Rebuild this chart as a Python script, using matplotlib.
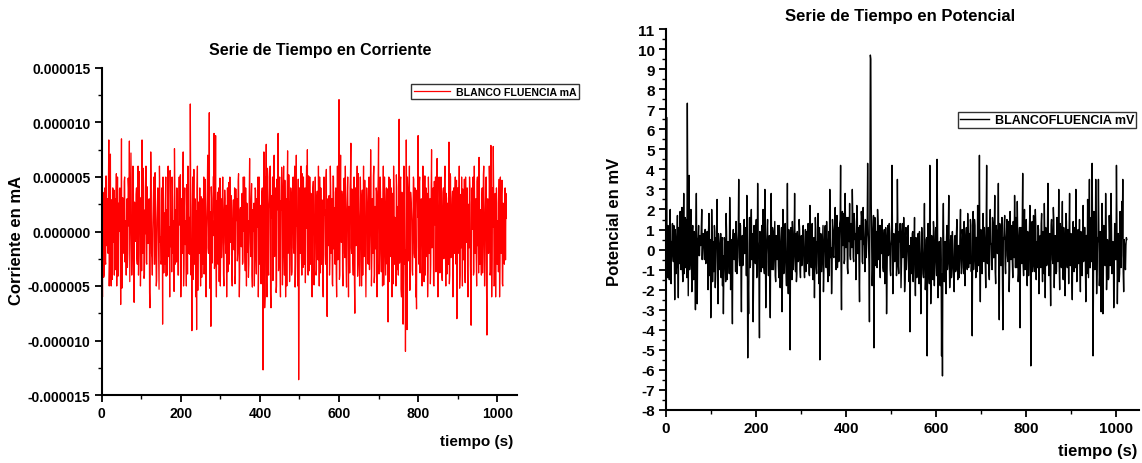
import numpy as np
import matplotlib
matplotlib.use('Agg')
import matplotlib.pyplot as plt
from matplotlib.ticker import MultipleLocator, FormatStrFormatter

plt.rcParams['font.family'] = ['Liberation Sans', 'DejaVu Sans']
plt.rcParams['font.weight'] = 'bold'

# tiempo (s): readings at even and odd seconds
t_par = np.arange(0, 1024, 2)
t_impar = np.arange(1, 1024, 2)

# corriente, in units of 1e-6 mA, even seconds
corriente_par = [
    2, -6, 2, -4, 4, -3, 1, 3, -2, 8.4, -3, 7.1, -5, 2, 4, -1,
    -4, 3, 1, -5, 5, -2, 0, 4, -6.7, 8.5, -3, 2, -2, 5, 1, -4,
    3, -2, 4, 8.3, -1, 7.2, -4, -1, 5, -6.5, 2, 0, 4, -3, 6, -2,
    1, -5, 3, 8.4, -2, 4, -4, 2, 6, -3, 0, -1, 3, -7, 7.3, -2,
    -4, 2, 5, -3, 3, -5, 1, 4, -2, 6, -1, -3, 4, -8.5, 3, 0,
    -3, 5, 2, -4, 6, -1, -6, 3, 0, 5, -2, -5, 7.6, -3, 2, 4,
    -1, -4, 5, 1, -6, 3, -2, 7.3, -3, 4, 1, -5, 2, 6, -2, 0,
    11.7, -4, -9.1, 5, 1, -3, 3, -6, -9, 6, 2, -2, 4, -5, 1, 3,
    -3, 5, -1, 4, -6, 2, 7, -2, 10.9, -4, -8.7, 3, 1, 5, 9.0, -3,
    8.8, -6, 2, -3, 4, 0, -5, 3, -1, 5, -4, 2, 3, -2, -6, 4,
    1, -3, 5, -1, 3, -5, 2, 0, 4, -4, 1, 3, -2, 5.3, -6, 2,
    -1, 3, -3, 5, 0, -2, 4, -5, 2, 1, -3, 6.7, -1, 3, -4, 2,
    0, -5, 4, -2, 3, 1, -6, 5, -3, 2, -1, 4, -12.7, 7.3, -7, 5,
    8.0, -6, 5, -4, 3, 6, -7, 2, 5, -3, 7, -2, 4, -5, 3, 9.0,
    -3, 5, -6, 2, 4, -2, 6, -4, 1, 3, -5, 7.4, -1, 2, -3, 4,
    -4, 2, 5, -2, 6, -3, 7.0, 1, -5, -13.6, 4, -2, 6, -4, 2, 5,
    -3, 4, -1, 6, 7.5, -4, 2, 5, -3, 1, -6, 4, 0, -2, 5, -4,
    3, -1, 6, -5, 2, 4, -3, 1, -6, 5, 2, -3, 5.7, -7.8, 3, 0,
    -4, 6, -2, 3, -5, 5, 1, -3, 4, -6, 6, -2, 12.1, -4, 7.0, -1,
    3, -5, 4, -2, 6, -3, 2, 5, -6, 1, 4, 8.1, -2, 3, -4, 5,
    -7.5, 4, -1, 6, -3, 2, -5, 5, 0, 3, -4, 6, -2, 1, -6, 4,
    2, -3, 5, -1, 7.5, -5, 3, -2, 6, -4, 1, 4, -6, 3, 8.6, -3,
    5, -2, 3, -5, 6, -1, 2, -4, 4, -3, -8.3, 5, 0, -2, 4, -6,
    3, 6, -3, 1, -5, 4, 2, -4, 10.3, -2, 5, -6, 3, -8.5, 6, -3,
    -11.0, 8.4, -9, 4, -2, 6, -5, 3, 1, -4, 5, -2, 4, -6, -7.1, 3,
    8.8, -3, 5, -1, 3, -5, 6, -2, 2, -4, 4, 0, -6, 5, -2, 3,
    -3, 7.5, -1, 4, -5, 2, 5, -3, 6.7, -6, 1, 3, -2, 5, -4, 2,
    4, -2, 6, -5, 3, 1, -3, 8.2, -4, 5, -1, 3, -6, 4, -2, 5,
    -3, -8.0, 4, -2, 6, -4, 2, 5, -5, 3, 0, -3, 5, -1, 4, -6,
    2, 5, -3, -8.6, 4, 1, -4, 6, -2, 3, -5, 5, 0, 6.8, -3, 2,
    -4, 4, -1, 6, -5, 2, 5, -9.5, 3, -2, 6, -4, 7.9, -6, 4, 7.8,
    -5, 2, -6.0, 4, -3, 1, 3, -6, 5, -2, 4.7, -5, 2, -3, 4, 3.5,
]

# corriente, odd seconds
corriente_impar = [
    -0.8, 3.6, -4.2, 1.5, -2.7, 5.1, -1.3, 2.4, 4.4, -5.0, 0.7, -3.1, 2.9, -4.4, 0.3, 3.8,
    1.2, -3.5, 5.3, -1.9, -4.1, 2.6, 3.9, -0.6, 1.8, -5.2, 3.1, -0.4, 4.6, -2.8, -1.5, 2.2,
    -3.3, 4.9, 0.5, -4.6, 2.1, 1.3, -2.2, 6.0, -5.1, 2.7, -0.9, 3.4, -2.5, 1.6, -4.0, 5.5,
    3.1, -1.7, -3.6, 2.3, 5.8, -4.3, 0.9, -0.2, -2.9, 4.1, -1.1, 2.8, -5.6, 1.4, 4.7, -2.4,
    0.2, 3.7, -3.0, 5.4, -1.6, -4.5, 2.5, 1.1, -5.3, 3.3, -0.5, -2.6, 2.0, 5.0, -3.8, 1.7,
    2.8, -4.1, 1.2, 4.2, -2.3, 0.4, 5.6, -1.4, -3.7, 2.9, 1.0, -5.5, 3.6, -0.3, -2.8, 2.3,
    -4.0, 2.4, 0.6, 5.2, -2.7, 1.5, 3.9, -5.0, 2.2, -1.2, 0.1, 4.3, -3.9, 2.6, 1.3, -2.1,
    3.5, -1.8, 2.0, -4.4, 5.7, -0.7, -2.6, 1.9, 4.0, -5.4, 2.7, 0.5, -1.6, 3.2, -4.2, 2.5,
    1.4, -3.9, 4.8, -2.2, 0.3, 3.7, -1.5, 2.1, -5.2, 1.8, 4.1, -2.9, -0.4, 5.1, -3.4, 1.0,
    -2.5, 2.8, 3.6, -1.3, -4.6, 4.9, 0.8, -2.4, 2.6, 1.5, -5.0, 3.8, -1.0, 2.4, -0.2, -3.7,
    4.5, -2.1, 1.6, 3.3, -4.0, 0.6, 2.9, -1.7, -4.8, 3.9, 1.2, -2.7, 4.6, -0.5, -3.5, 2.2,
    -1.4, 3.5, -2.8, 1.1, 5.0, -3.6, 0.2, 2.6, -1.9, -4.2, 3.4, 1.7, -2.3, 4.4, -5.1, 0.9,
    2.6, -1.2, 3.8, -3.9, 0.4, 5.0, -2.6, 1.3, 2.4, -4.8, 3.6, -0.6, -2.4, 5.6, -5.9, 3.2,
    -4.7, 5.8, -3.4, 2.1, 4.9, -5.7, 3.3, 1.2, -4.5, 6.1, -2.3, 3.5, -5.6, 4.8, 2.0, -3.6,
    4.6, -3.5, 2.8, 5.9, -4.9, 3.1, -1.4, 4.7, -6.0, 2.5, 3.8, -2.0, 5.2, -4.6, 1.1, 3.4,
    -3.7, 4.4, -1.5, 3.6, -5.1, 2.3, 0.5, -3.9, 4.8, -5.8, 2.6, 3.7, -2.4, 5.3, -3.3, 1.4,
    2.3, -4.7, 3.9, 0.3, -2.5, 5.1, -3.6, 1.6, 3.5, -2.2, 0.7, 4.6, -4.9, 2.4, 1.2, -3.5,
    3.7, -2.6, 1.4, 5.0, -3.8, -0.3, 2.9, -4.6, 3.2, 1.5, -2.1, 4.8, -3.5, 2.7, -1.3, 3.3,
    -2.4, 3.8, 0.5, -4.8, 5.1, -1.6, 2.2, 3.6, -3.9, 1.0, -2.6, 5.4, -4.4, 2.5, 0.2, 3.7,
    -3.6, 2.7, 4.9, -2.4, 1.2, -5.1, 3.4, -0.6, 2.3, -3.8, 5.2, -1.5, 3.9, -2.7, 1.3, -4.7,
    2.6, -1.3, 3.6, -4.1, 5.3, 0.4, -2.8, 2.5, -5.0, 3.8, 1.0, -2.3, 4.7, -3.5, -0.4, 2.7,
    -2.9, 4.8, -3.5, 1.5, 3.4, -2.5, 0.6, 5.1, -4.7, 2.3, -1.6, 3.7, -2.2, 4.9, -3.9, 1.2,
    3.6, -3.7, 2.4, 0.2, -4.9, 5.0, -1.3, 2.6, -2.5, 3.9, 1.1, -4.6, 4.8, -2.3, -0.2, 3.5,
    -4.8, 3.7, 1.3, -2.6, 5.2, -3.5, 2.3, 0.5, -2.9, 4.7, -5.3, 3.6, 1.6, -3.8, 4.9, -1.7,
    -3.6, 2.8, 5.0, -2.7, 1.1, -5.4, 3.6, 2.2, -3.5, 0.4, 4.8, -2.4, 2.5, -4.9, 3.8, 1.3,
    -1.4, 4.5, -3.8, 2.6, 0.3, -2.7, 3.9, -4.6, 5.1, 1.2, -2.3, 3.5, -3.6, 2.6, -0.5, -4.8,
    3.8, -1.5, 2.7, -4.9, 4.6, 0.6, -3.7, 2.4, 1.4, -2.6, 5.0, -3.8, 2.2, -0.3, -4.5, 3.6,
    -2.5, 4.9, -1.2, 3.5, -3.9, 2.6, 0.4, -4.8, 5.3, -2.4, 1.5, 3.7, -3.3, 0.5, 2.8, -1.6,
    4.7, -3.8, 1.3, 2.6, -5.2, 3.4, -1.5, 0.6, 3.9, -2.6, 4.8, -4.7, 2.3, 1.4, -3.6, 2.5,
    -1.5, 3.8, -4.9, 2.5, 0.2, 5.0, -3.7, 1.6, 2.7, -2.5, 4.6, -1.3, -3.8, 3.6, 0.6, -2.4,
    2.6, -3.8, 5.2, 0.5, -2.6, 3.8, -5.1, 1.2, 2.5, -1.6, 3.9, -3.7, 4.9, -2.5, 0.4, 3.6,
    -4.9, 3.5, -1.4, 2.6, 0.3, -3.7, 4.8, -2.5, 1.3, 3.4, -4.8, 2.6, -1.3, 3.5, -2.6, 1.2,
]

# potencial in mV, even seconds
potencial_par = [
    -1.0, 6.6, -1.4, 0.5, -1.5, 2.0, -1.7, 0.3, -0.2, 1.2, -2.5, 0.5, -0.8, 1.7, -2.4, 0.6,
    1.9, -1.0, 2.1, -1.6, 2.8, 0.4, -0.9, 1.5, 7.3, -2.3, 3.7, -0.5, 2.0, -2.1, 1.2, -1.5,
    0.8, -3.0, 2.8, -2.7, 0.6, -0.3, 0.7, 0.2, 2.0, 0.3, 0.6, -0.5, 1.0, -0.1, 0.9, -2.0,
    1.8, -1.3, -3.4, 2.0, -1.6, 0.4, 1.2, -1.9, 0.6, 2.5, -2.7, 0.3, -1.0, 0.8, -0.4, -1.8,
    -3.2, 0.6, -0.9, 1.8, -1.5, 0.4, -0.2, 2.6, -2.0, 0.5, -3.7, 1.0, -0.5, 0.2, 1.4, -1.2,
    0.5, 3.5, -0.8, 1.2, -3.1, 0.7, -0.4, 1.5, 0.2, 1.1, 2.7, -5.4, -3.2, 1.6, -0.8, 2.0,
    -0.3, -3.6, 1.2, -0.5, 1.0, -1.4, 3.3, 0.1, -4.4, 0.7, -1.1, 0.6, 2.0, -0.9, 3.0, -2.9,
    0.4, 1.5, -1.3, 0.7, -3.4, 2.8, -1.0, 0.9, -0.2, 1.4, -1.6, 0.5, 0.0, -0.8, 1.2, -1.9,
    0.3, -3.1, 2.0, -1.2, 0.6, -0.5, -1.8, 3.3, -2.2, 0.4, -5.0, 1.1, -1.5, 0.8, -0.4, 2.8,
    -1.1, -1.6, 0.9, -0.6, 1.5, -1.0, 0.3, -0.8, 0.7, -0.2, -1.4, 1.0, 0.2, -0.7, 1.3, -1.2,
    2.2, -0.6, 0.5, -1.3, 0.1, -2.4, 1.6, -0.9, 0.4, 1.8, -1.7, -5.5, 0.8, -1.1, 0.6, -2.1,
    0.3, 1.2, -0.9, 0.5, -1.6, 0.9, 3.0, -0.4, -2.2, 1.5, -0.3, 0.8, 2.1, -1.0, 1.7, 0.2,
    -0.6, 1.3, 4.2, -3.0, 1.9, 0.4, -0.7, 2.8, 0.1, 1.6, -1.2, 0.9, 2.3, -0.5, 1.0, 3.0,
    -0.4, 1.8, 0.5, -1.5, 2.2, -0.2, 1.1, -2.6, 0.8, 1.9, -0.6, 2.1, 0.3, -1.1, 1.4, 0.6,
    4.3, 0.2, -3.6, 9.7, 2.3, -1.8, 1.0, -4.9, 1.6, -0.8, 0.9, 2.0, -0.5, 1.2, -1.4, 0.7,
    1.5, -0.9, 0.4, -1.7, 1.1, -3.2, 0.6, -0.3, 1.3, -1.0, 0.2, 4.2, -2.2, 0.8, -0.6, 1.0,
    -1.3, 3.5, -0.8, 0.9, 1.3, -1.9, 0.5, -0.4, 1.6, -2.1, 0.7, -1.0, 0.3, 1.2, -1.6, -4.1,
    0.6, -1.2, 0.9, -0.5, 1.6, -2.3, 0.4, -1.0, 0.8, -1.7, 0.2, -3.2, 1.1, -0.6, -1.4, 2.3,
    -2.0, 0.5, -5.3, 1.3, -1.1, 4.2, -2.7, 0.7, -0.9, 1.4, -1.8, 0.3, -0.5, 4.5, -2.4, -0.2,
    -1.3, 0.6, -5.3, -6.3, 2.3, -1.6, 0.4, -2.2, 1.2, -0.7, 2.7, -1.9, 0.5, -1.4, 0.9, -0.8,
    -2.1, 0.7, -1.0, 1.5, -1.5, 0.2, -0.6, 2.0, -1.2, 1.0, -0.3, 1.4, -1.8, 0.6, -0.4, 1.8,
    -0.9, 0.8, 1.5, -1.1, -4.3, 1.9, -0.5, 1.2, -1.4, 0.6, 2.2, -0.8, 4.7, -2.6, 0.9, -1.2,
    1.8, -0.6, 0.4, -1.9, 4.2, -0.7, 1.1, -1.5, 2.0, 0.3, -1.0, 1.3, -0.4, 2.7, -1.7, 0.9,
    -0.2, 3.3, -3.5, 1.0, -0.8, 1.6, -4.0, 0.5, 1.7, -1.2, 0.8, -0.3, 1.4, -2.1, 1.9, -0.5,
    1.2, -1.4, 0.9, 2.7, -0.9, 1.3, 2.4, -1.6, 0.6, -3.9, 1.1, -0.7, 3.8, -1.3, 2.0, -0.6,
    1.5, -1.8, 0.7, -0.4, 2.2, -5.8, 0.9, -1.1, 1.7, -0.8, 2.0, -1.5, 0.4, 1.2, -2.2, 0.6,
    -0.9, 1.8, -1.6, 0.5, 2.3, -2.4, 1.0, -0.7, 3.3, -1.3, 0.8, -2.8, 1.5, -0.5, 2.1, -1.9,
    0.7, -1.2, 1.6, -0.6, 3.0, -2.0, 1.1, -0.9, 2.4, -1.5, 0.5, -2.3, 1.8, -0.4, 1.0, -1.7,
    2.8, -0.8, 0.6, -2.5, 1.4, -1.1, 0.9, 3.0, -1.6, 0.4, -0.7, 1.5, -2.1, 0.8, -1.3, 2.2,
    -0.5, 1.1, -2.6, 0.7, 2.5, -1.4, 3.5, -0.9, 1.6, 4.3, -5.3, 1.9, -1.0, 3.5, -2.2, 0.6,
    3.5, -1.8, 0.9, -3.1, 2.3, -3.2, 1.2, -0.6, 2.8, -2.0, 0.5, -1.5, 1.7, -0.8, 2.8, -1.2,
    0.4, -2.9, 1.3, -0.5, 4.2, -2.7, 0.8, -1.6, 1.9, -0.9, 2.4, 3.5, -2.1, 0.3, -1.0, 0.6,
]

# potencial, odd seconds
potencial_impar = [
    0.5, -0.8, 1.2, -0.3, 0.9, -1.1, 0.4, 1.3, -0.6, 0.2, 1.0, -1.2, 0.8, -0.4, 1.1, -0.7,
    0.6, 1.4, -0.9, 0.3, -1.2, 1.6, 0.2, -1.4, 2.4, 0.5, -1.0, 1.3, -0.6, 0.8, -1.3, 0.9,
    -0.4, 1.0, -0.9, 0.5, 1.2, -0.3, 0.4, 1.1, -0.5, 0.8, 0.1, 1.0, -0.7, 0.6, -0.2, 0.9,
    -0.8, 0.5, -1.5, 0.7, -0.4, -1.1, 0.9, -0.6, 0.3, -1.3, 0.8, -0.9, 0.2, -1.4, 0.6, -0.3,
    -1.0, 0.4, -1.6, 0.9, -0.5, 0.2, -1.2, 1.0, -0.7, -1.5, 0.5, -0.3, 0.8, -1.1, 0.3, -0.6,
    0.9, -0.4, 1.3, -1.2, 0.6, -0.8, 1.1, -0.2, 0.7, -1.3, 0.4, -1.6, 0.3, -0.9, 1.2, -0.5,
    0.8, -1.4, 0.2, -0.7, 1.5, -1.0, 0.4, -1.6, 0.9, -0.3, 1.2, -0.9, 0.6, -1.2, 0.7, -0.4,
    1.0, -0.6, 0.3, -1.5, 0.8, -0.2, 1.1, -1.0, 0.5, -1.3, 0.7, -0.5, 1.2, -1.4, 0.3, -0.8,
    1.1, -1.6, 0.6, -0.4, 1.3, -1.1, 0.2, -0.9, 1.0, -1.8, 0.4, -0.6, 1.4, -1.0, 0.5, -0.2,
    0.8, -1.2, 0.3, -0.5, 1.0, -1.4, 0.7, -0.3, 1.2, -0.9, 0.1, -1.1, 0.9, -0.4, 0.6, -1.3,
    0.4, -0.9, 1.3, -1.5, 0.6, -0.2, 1.0, -1.2, 0.3, -0.7, 1.1, -1.6, 0.5, -0.3, 1.2, -0.8,
    0.9, -0.5, 1.4, -1.0, 0.2, -1.3, 0.8, 0.1, -1.1, 1.0, -0.4, 1.3, -0.6, 0.7, -0.9, 1.1,
    0.3, 1.5, -0.8, 1.1, 0.2, 1.8, -0.5, 1.2, 0.6, -0.9, 1.6, 0.4, -0.3, 1.3, 0.1, 1.7,
    -0.6, 1.4, 0.8, -0.2, 1.9, 0.3, -1.1, 1.2, 0.5, 1.6, -0.7, 1.0, 0.2, 1.5, -0.4, 0.9,
    1.3, -0.8, 2.0, 9.5, 0.4, -1.0, 1.7, -0.6, 1.1, 0.3, -0.9, 1.4, 0.6, -0.5, 1.2, -0.2,
    0.7, -1.1, 1.0, -0.6, 0.3, -1.4, 1.2, -0.2, 0.8, -1.3, 0.5, 1.1, -0.9, 0.4, -0.5, 1.3,
    -0.7, 1.0, -1.2, 0.4, 0.9, -0.8, 1.3, -0.3, 0.6, -1.5, 1.1, -0.4, 0.8, -1.0, 0.2, -1.2,
    -0.3, 0.8, -1.6, 0.2, -0.9, 0.6, -1.4, 0.5, -1.1, 0.9, -0.6, -1.8, 0.4, -1.2, 0.7, -0.5,
    -1.4, 0.6, -1.0, 0.3, -1.7, 1.2, -0.8, -0.2, -1.5, 0.9, -0.6, 1.1, -1.3, 1.6, -0.9, 0.4,
    -1.8, -0.5, -1.2, 0.8, -0.7, 0.3, -1.6, 0.6, -1.0, 0.9, -0.4, -1.3, 0.7, -0.9, 0.2, -1.5,
    0.5, -1.1, 0.8, -0.6, 0.2, -1.4, 1.0, -0.3, -0.9, 0.7, -1.2, 0.4, -0.5, 1.1, -1.0, 0.6,
    0.3, -0.7, 1.2, -0.4, 0.9, -1.0, 1.5, -0.2, 0.6, -1.1, 1.3, 0.2, -0.8, 1.0, -0.5, 0.8,
    -0.3, 1.1, -0.9, 1.4, -0.6, 0.7, -1.2, 1.0, 0.3, -0.8, 1.6, -0.4, 0.9, -1.1, 1.2, 0.1,
    0.8, -0.9, 1.3, -0.5, 1.0, -1.3, 0.6, 1.2, -0.7, 0.4, 1.5, -0.6, 0.9, -1.0, 0.3, 1.1,
    -0.6, 1.4, -0.4, 0.8, 1.6, -0.9, 0.5, -1.2, 1.1, -0.3, 0.7, 1.3, -0.8, 0.6, -1.0, 1.2,
    -0.2, 0.9, -1.3, 1.1, 0.4, -0.7, 1.4, -0.5, 0.8, -1.1, 1.2, 0.3, -0.9, 1.0, -0.4, 0.7,
    1.3, -0.6, 0.9, -1.2, 0.5, 1.1, -0.8, 1.4, -0.3, 0.7, -1.0, 1.2, 0.4, -0.7, 1.5, -0.2,
    0.6, -1.1, 1.0, 0.2, -0.8, 1.3, -0.5, 0.9, -1.2, 1.1, 0.3, -0.6, 1.4, -0.9, 0.5, 1.0,
    -0.4, 0.8, -1.3, 0.5, -0.2, 1.1, -0.9, 0.6, -1.4, 1.0, 0.2, -0.8, 0.9, -1.1, 0.4, -0.6,
    1.1, -0.5, 0.7, -1.2, 0.3, 1.0, -0.9, 1.4, -0.6, 0.8, -1.5, 0.5, -0.3, 1.2, -1.0, 0.4,
    0.9, -1.3, 0.6, -0.4, 1.2, -1.1, 0.3, -0.8, 1.0, -0.6, 0.2, -1.4, 0.8, -0.5, 1.1, -0.9,
    0.3, -1.0, 0.7, -0.5, 1.3, -0.8, 0.4, -1.2, 0.9, -0.3, 0.6, -1.1, 0.5, -0.7, 0.2, 0.5,
]

# merge the even and odd readings into one time series
tiempo = np.empty(1024)
tiempo[0::2] = t_par
tiempo[1::2] = t_impar
corriente = np.empty(1024)
corriente[0::2] = corriente_par
corriente[1::2] = corriente_impar
corriente = corriente * 1e-6
potencial = np.empty(1024)
potencial[0::2] = potencial_par
potencial[1::2] = potencial_impar

W, H = 1142, 464
fig = plt.figure(figsize=(W / 100, H / 100), dpi=100)


def px_box(x0, y0, x1, y1):
    # pixel box (top-left origin) -> figure fraction rect
    return [x0 / W, 1 - y1 / H, (x1 - x0) / W, (y1 - y0) / H]


def style_axes(ax, size):
    for s in ['top', 'right']:
        ax.spines[s].set_visible(False)
    for s in ['left', 'bottom']:
        ax.spines[s].set_linewidth(1.5)
    ax.tick_params(which='major', direction='out', length=5, width=1.3,
                   labelsize=size, pad=3)
    ax.tick_params(which='minor', direction='out', length=3, width=1.0)
    for lab in ax.get_xticklabels() + ax.get_yticklabels():
        lab.set_fontweight('bold')


# ---- Left panel: corriente ----
ax1 = fig.add_axes(px_box(101.7, 69, 517, 396))
ax1.plot(tiempo, corriente, color='red', lw=0.9, label='BLANCO FLUENCIA mA')
ax1.set_xlim(0, 1050)
ax1.set_ylim(-15e-6, 15e-6)
ax1.xaxis.set_major_locator(MultipleLocator(200))
ax1.xaxis.set_minor_locator(MultipleLocator(100))
ax1.yaxis.set_major_locator(MultipleLocator(5e-6))
ax1.yaxis.set_minor_locator(MultipleLocator(2.5e-6))
ax1.yaxis.set_major_formatter(FormatStrFormatter('%.6f'))
style_axes(ax1, 10)
leg1 = ax1.legend(loc='upper left', bbox_to_anchor=(411 / W, 1 - 85 / H),
                  bbox_transform=fig.transFigure, frameon=True, fancybox=False,
                  prop={'size': 7.6, 'weight': 'bold'}, handlelength=3.4,
                  borderpad=0.25, handletextpad=0.6, borderaxespad=0)
leg1.get_frame().set_edgecolor('black')
leg1.get_frame().set_linewidth(1.0)

fig.text(320 / W, 1 - 50 / H, 'Serie de Tiempo en Corriente', ha='center',
         va='center', fontsize=11.5, fontweight='bold')
fig.text(17 / W, 1 - 240 / H, 'Corriente en mA', rotation=90, ha='center',
         va='center', fontsize=12, fontweight='bold')
fig.text(513 / W, 1 - 442 / H, 'tiempo (s)', ha='right', va='center',
         fontsize=11, fontweight='bold')

# ---- Right panel: potencial ----
ax2 = fig.add_axes(px_box(665.7, 30, 1139, 411))
ax2.plot(tiempo, potencial, color='black', lw=1.0, label='BLANCOFLUENCIA mV')
ax2.set_xlim(0, 1050)
ax2.set_ylim(-8, 11)
ax2.xaxis.set_major_locator(MultipleLocator(200))
ax2.xaxis.set_minor_locator(MultipleLocator(100))
ax2.yaxis.set_major_locator(MultipleLocator(1))
ax2.yaxis.set_minor_locator(MultipleLocator(0.5))
ax2.yaxis.set_major_formatter(FormatStrFormatter('%d'))
style_axes(ax2, 11)
leg2 = ax2.legend(loc='upper left', bbox_to_anchor=(958 / W, 1 - 113 / H),
                  bbox_transform=fig.transFigure, frameon=True, fancybox=False,
                  prop={'size': 9, 'weight': 'bold'}, handlelength=2.3,
                  borderpad=0.15, handletextpad=0.5, borderaxespad=0)
leg2.get_frame().set_edgecolor('black')
leg2.get_frame().set_linewidth(1.0)

fig.text(900 / W, 1 - 17 / H, 'Serie de Tiempo en Potencial', ha='center',
         va='center', fontsize=12, fontweight='bold')
fig.text(614 / W, 1 - 222 / H, 'Potencial en mV', rotation=90, ha='center',
         va='center', fontsize=12, fontweight='bold')
fig.text(1137 / W, 1 - 452 / H, 'tiempo (s)', ha='right', va='center',
         fontsize=12, fontweight='bold')

fig.savefig('out.png', dpi=100)
